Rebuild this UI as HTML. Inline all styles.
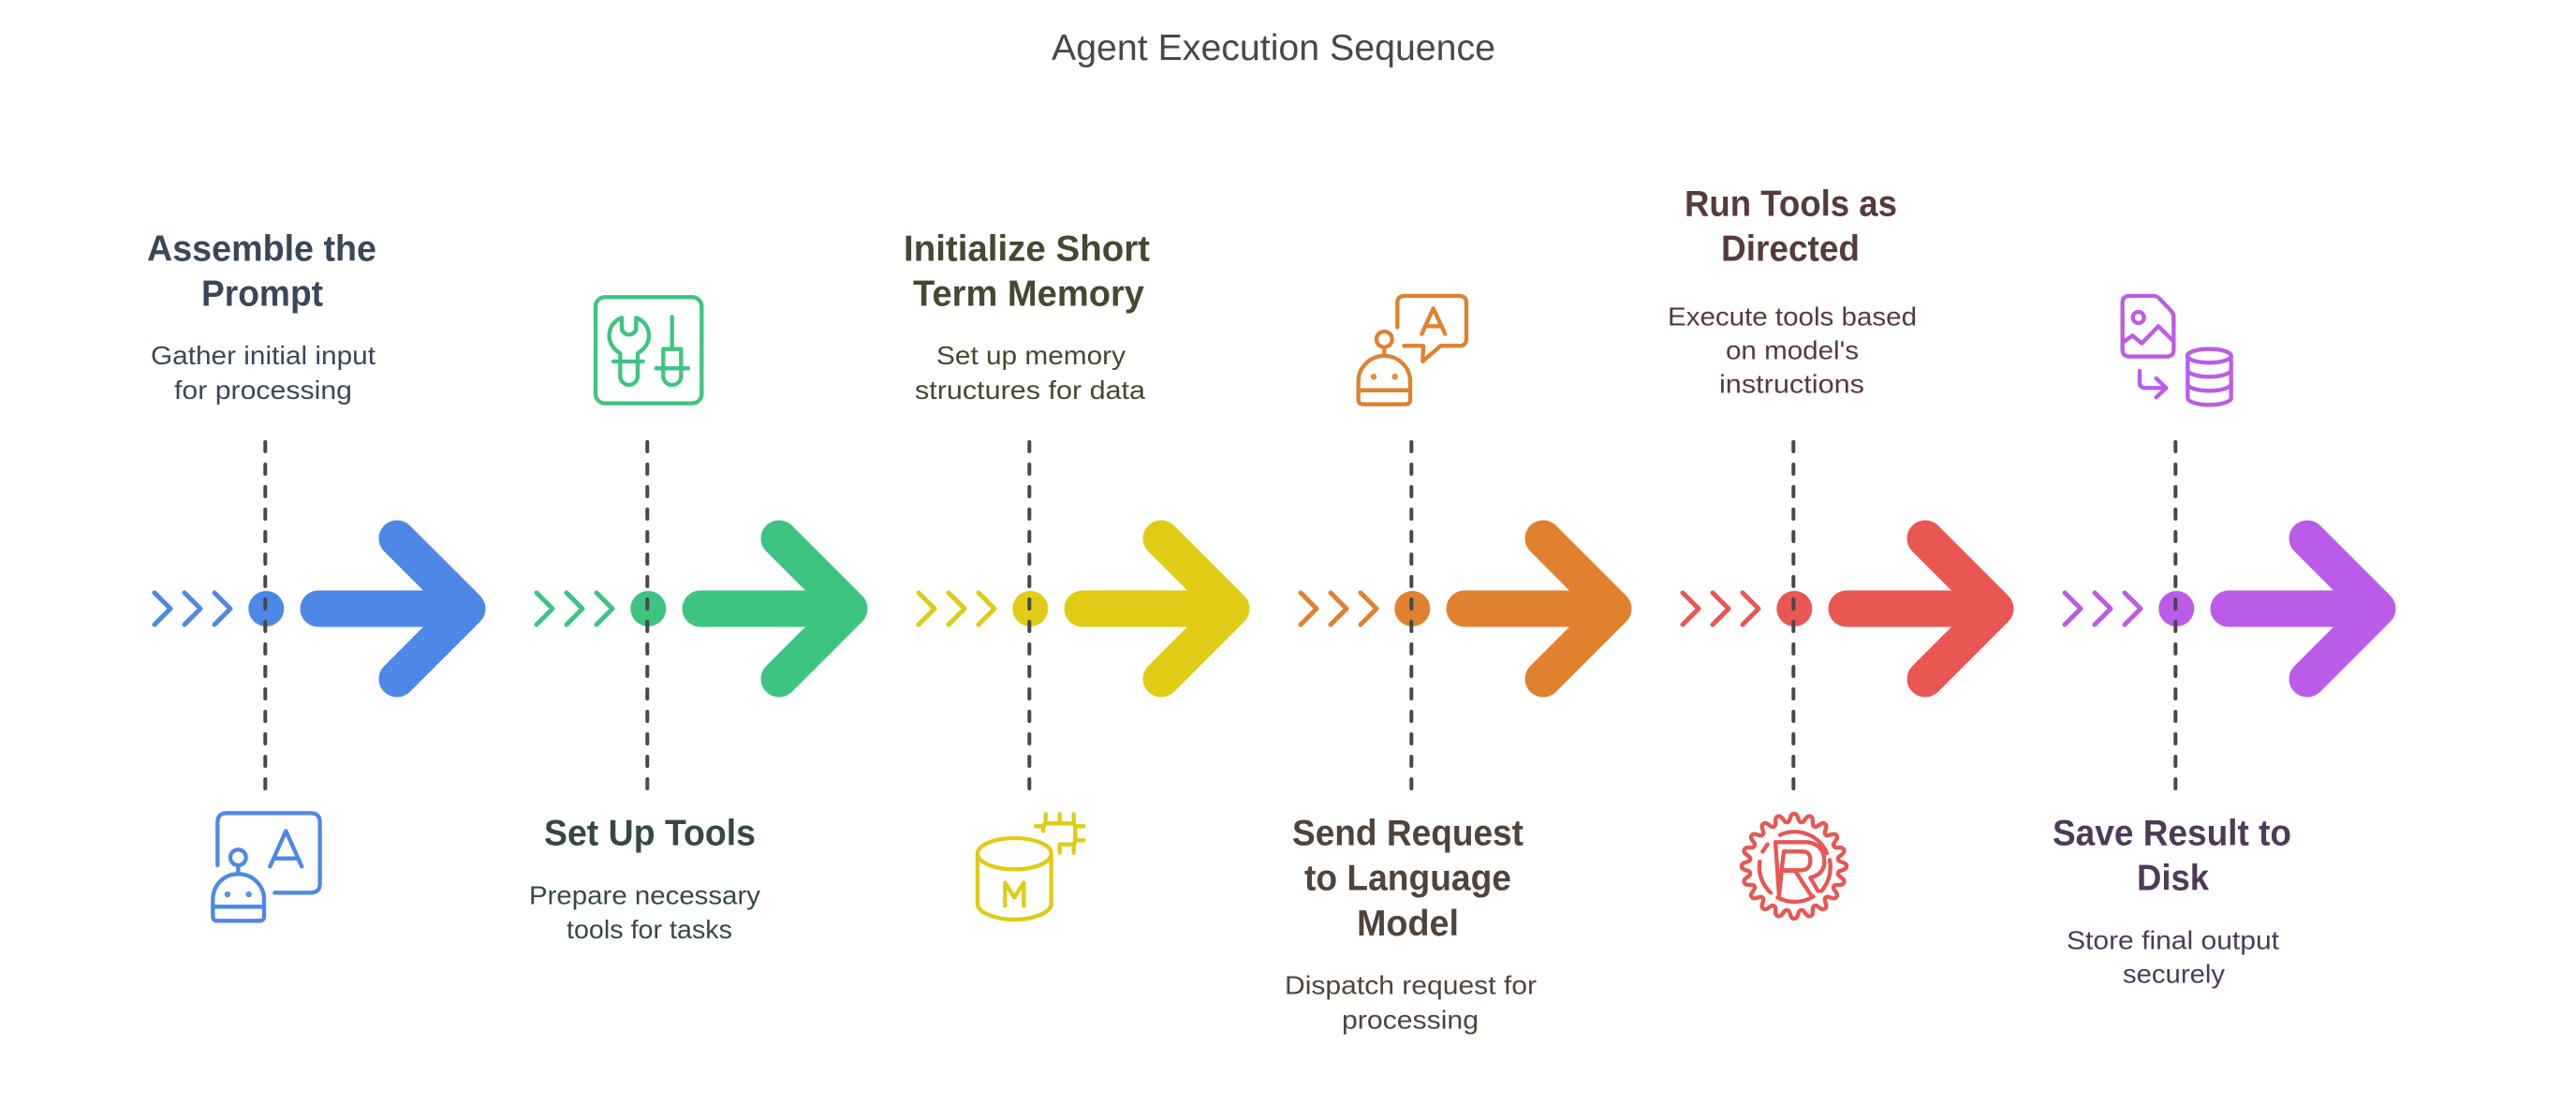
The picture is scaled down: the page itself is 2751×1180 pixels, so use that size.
<!DOCTYPE html>
<html><head><meta charset="utf-8"><title>Agent Execution Sequence</title>
<style>
html,body{margin:0;padding:0;background:#fff}
svg{display:block}
text{font-family:"Liberation Sans",sans-serif}
.h{font-size:39px;font-weight:700}
.d{font-size:28px}
.i{fill:none;stroke-width:13;stroke-linecap:round;stroke-linejoin:round}
</style></head><body>
<svg width="2751" height="1180" viewBox="0 0 2751 1180" xmlns="http://www.w3.org/2000/svg">
<defs>
<g id="flow">
<path d="M165 633L182 650L165 667M197 633L214 650L197 667M229 633L246 650L229 667" fill="none" stroke="currentColor" stroke-width="5" stroke-linecap="round" stroke-linejoin="round"/>
<circle cx="284.3" cy="650" r="19" fill="currentColor"/>
<path d="M340 650H499M424 575L499 650L424 725" fill="none" stroke="currentColor" stroke-width="39" stroke-linecap="round" stroke-linejoin="round"/>
<path d="M283.3 472V846" fill="none" stroke="#484848" stroke-width="4" stroke-linecap="round" stroke-dasharray="10 14"/>
</g>
<path id="tooth" d="M-22.4 -141C-10 -141 -16 -168 0 -168C16 -168 10 -141 22.4 -141"/>
</defs>

<text x="1123" y="64" font-size="39" fill="#484848" textLength="474" lengthAdjust="spacingAndGlyphs">Agent Execution Sequence</text>

<use href="#flow" color="#4e88e7"/>
<use href="#flow" x="408" color="#3dc482"/>
<use href="#flow" x="816" color="#e0cb15"/>
<use href="#flow" x="1224" color="#e08130"/>
<use href="#flow" x="1632" color="#e85752"/>
<use href="#flow" x="2040" color="#bb5ce8"/>

<g fill="#3a4659">
<text class="h" x="157" y="278.3" textLength="245" lengthAdjust="spacingAndGlyphs">Assemble the</text>
<text class="h" x="215" y="326.5" textLength="130" lengthAdjust="spacingAndGlyphs">Prompt</text>
<text class="d" x="161" y="389" textLength="240" lengthAdjust="spacingAndGlyphs">Gather initial input</text>
<text class="d" x="186" y="426" textLength="190" lengthAdjust="spacingAndGlyphs">for processing</text>
</g>
<g fill="#354a3f">
<text class="h" x="581" y="902.7" textLength="226" lengthAdjust="spacingAndGlyphs">Set Up Tools</text>
<text class="d" x="565" y="965.4" textLength="247" lengthAdjust="spacingAndGlyphs">Prepare necessary</text>
<text class="d" x="605" y="1002" textLength="177" lengthAdjust="spacingAndGlyphs">tools for tasks</text>
</g>
<g fill="#48472f">
<text class="h" x="965" y="278.3" textLength="263" lengthAdjust="spacingAndGlyphs">Initialize Short</text>
<text class="h" x="975" y="326.5" textLength="247" lengthAdjust="spacingAndGlyphs">Term Memory</text>
<text class="d" x="1000" y="389" textLength="202" lengthAdjust="spacingAndGlyphs">Set up memory</text>
<text class="d" x="977" y="426" textLength="246" lengthAdjust="spacingAndGlyphs">structures for data</text>
</g>
<g fill="#50433a">
<text class="h" x="1380" y="902.7" textLength="247" lengthAdjust="spacingAndGlyphs">Send Request</text>
<text class="h" x="1393" y="950.7" textLength="221" lengthAdjust="spacingAndGlyphs">to Language</text>
<text class="h" x="1449" y="999" textLength="109" lengthAdjust="spacingAndGlyphs">Model</text>
<text class="d" x="1372" y="1061.7" textLength="269" lengthAdjust="spacingAndGlyphs">Dispatch request for</text>
<text class="d" x="1433" y="1098.5" textLength="146" lengthAdjust="spacingAndGlyphs">processing</text>
</g>
<g fill="#573a3a">
<text class="h" x="1799" y="230.7" textLength="227" lengthAdjust="spacingAndGlyphs">Run Tools as</text>
<text class="h" x="1838" y="278.3" textLength="148" lengthAdjust="spacingAndGlyphs">Directed</text>
<text class="d" x="1781" y="347.3" textLength="266" lengthAdjust="spacingAndGlyphs">Execute tools based</text>
<text class="d" x="1843" y="383.3" textLength="142" lengthAdjust="spacingAndGlyphs">on model's</text>
<text class="d" x="1836" y="419.3" textLength="155" lengthAdjust="spacingAndGlyphs">instructions</text>
</g>
<g fill="#4e3a58">
<text class="h" x="2192" y="902.7" textLength="255" lengthAdjust="spacingAndGlyphs">Save Result to</text>
<text class="h" x="2282" y="950.7" textLength="77" lengthAdjust="spacingAndGlyphs">Disk</text>
<text class="d" x="2207" y="1013.3" textLength="227" lengthAdjust="spacingAndGlyphs">Store final output</text>
<text class="d" x="2267" y="1049.3" textLength="109" lengthAdjust="spacingAndGlyphs">securely</text>
</g>

<!-- icon 1 -->
<g transform="translate(200 850) scale(.3333)" class="i" stroke="#4e88e7">
<path d="M97 222V85Q97 55 127 55H395Q425 55 425 85V280Q425 310 395 310H280"/>
<path d="M265 226L316 112L367 226M278 200H355"/>
<circle cx="163" cy="197" r="25"/>
<path d="M163 222V250"/>
<path d="M82 355V332C82 285 118 250 163 250C208 250 246 285 246 332V355Z"/>
<path d="M82 355H246V385Q246 400 232 400H96Q82 400 82 385Z"/>
<circle cx="129" cy="315" r="3" fill="#4e88e7"/>
<circle cx="197" cy="315" r="3" fill="#4e88e7"/>
</g>
<!-- icon 2 -->
<g transform="translate(620 300) scale(.3333)" class="i" stroke="#3dc482">
<rect x="48" y="52" width="340" height="340" rx="30"/>
<path d="M132 118V155A24 24 0 0 0 178 155V118C205 128 219 150 219 175C219 200 205 218 183 232V305A28 28 0 0 1 127 305V232C105 218 92 200 92 175C92 150 105 128 132 118Z"/>
<path d="M105 258H200"/>
<path d="M293 115V218M265 218H322V305A28 28 0 0 1 265 305Z"/>
<path d="M242 280H345"/>
</g>
<!-- icon 3 -->
<g transform="translate(1020 850) scale(.3333)" class="i" stroke="#e0cb15">
<ellipse cx="190" cy="185" rx="118" ry="50"/>
<path d="M72 185V345C72 372 125 396 190 396C255 396 308 372 308 345V185"/>
<path d="M160 352V278L190 325L220 278V352"/>
<path d="M282 112V100Q282 88 294 88H372Q385 88 385 100V142Q385 155 372 155H335V182"/>
<path d="M290 58V88M335 58V88M380 58V88M258 97H285M385 97H412M385 142H412M380 155V182"/>
</g>
<!-- icon 4 -->
<g transform="translate(1430 300) scale(.3333)" class="i" stroke="#e08130">
<path d="M187 148V70Q187 48 210 48H385Q408 48 408 70V185Q408 208 385 208H325L268 258L270 208H208"/>
<path d="M265 170L302 88L340 170M275 145H330"/>
<circle cx="145" cy="187" r="25"/>
<path d="M145 212V240"/>
<path d="M62 350V322C62 276 100 240 145 240C190 240 228 276 228 322V350Z"/>
<path d="M62 350H228V380Q228 395 214 395H76Q62 395 62 380Z"/>
<circle cx="111" cy="307" r="3" fill="#e08130"/>
<circle cx="179" cy="307" r="3" fill="#e08130"/>
</g>
<!-- icon 5 -->
<g transform="translate(1840 850) scale(.3333)" class="i" stroke="#e85752">
<g transform="translate(228 225)">
<use href="#tooth"/><use href="#tooth" transform="rotate(18)"/><use href="#tooth" transform="rotate(36)"/><use href="#tooth" transform="rotate(54)"/><use href="#tooth" transform="rotate(72)"/><use href="#tooth" transform="rotate(90)"/><use href="#tooth" transform="rotate(108)"/><use href="#tooth" transform="rotate(126)"/><use href="#tooth" transform="rotate(144)"/><use href="#tooth" transform="rotate(162)"/><use href="#tooth" transform="rotate(180)"/><use href="#tooth" transform="rotate(198)"/><use href="#tooth" transform="rotate(216)"/><use href="#tooth" transform="rotate(234)"/><use href="#tooth" transform="rotate(252)"/><use href="#tooth" transform="rotate(270)"/><use href="#tooth" transform="rotate(288)"/><use href="#tooth" transform="rotate(306)"/><use href="#tooth" transform="rotate(324)"/><use href="#tooth" transform="rotate(342)"/>
</g>
<path d="M183 125A112 112 0 0 1 333 183M127 178L143 155M118 210A112 112 0 0 0 153 310M175 325A114 114 0 0 0 290 322M342 205A116 116 0 0 1 315 305"/>
<path d="M168 148H270Q325 155 325 210Q325 250 280 262L305 305"/>
<path d="M168 148L180 320L188 240H232Q250 270 285 322"/>
<path d="M195 178H255Q280 178 280 205Q280 238 250 238H188Z"/>
</g>
<!-- icon 6 -->
<g transform="translate(2240 300) scale(.3333)" class="i" stroke="#bb5ce8">
<path d="M80 70Q80 48 102 48H180Q190 48 198 56L235 95Q244 104 244 115V220Q244 242 222 242H102Q80 242 80 220Z"/>
<circle cx="131" cy="117" r="18"/>
<path d="M84 195L112 175L142 200L195 145L240 190"/>
<path d="M135 288V325Q135 343 155 343H220M188 312L220 343L188 373"/>
<ellipse cx="358" cy="240" rx="70" ry="22"/>
<path d="M289 240V375C289 387 320 397 358 397C396 397 428 387 428 375V240"/>
<path d="M289 285C289 297 320 307 358 307C396 307 428 297 428 285M289 330C289 342 320 352 358 352C396 352 428 342 428 330"/>
</g>
</svg>
</body></html>
